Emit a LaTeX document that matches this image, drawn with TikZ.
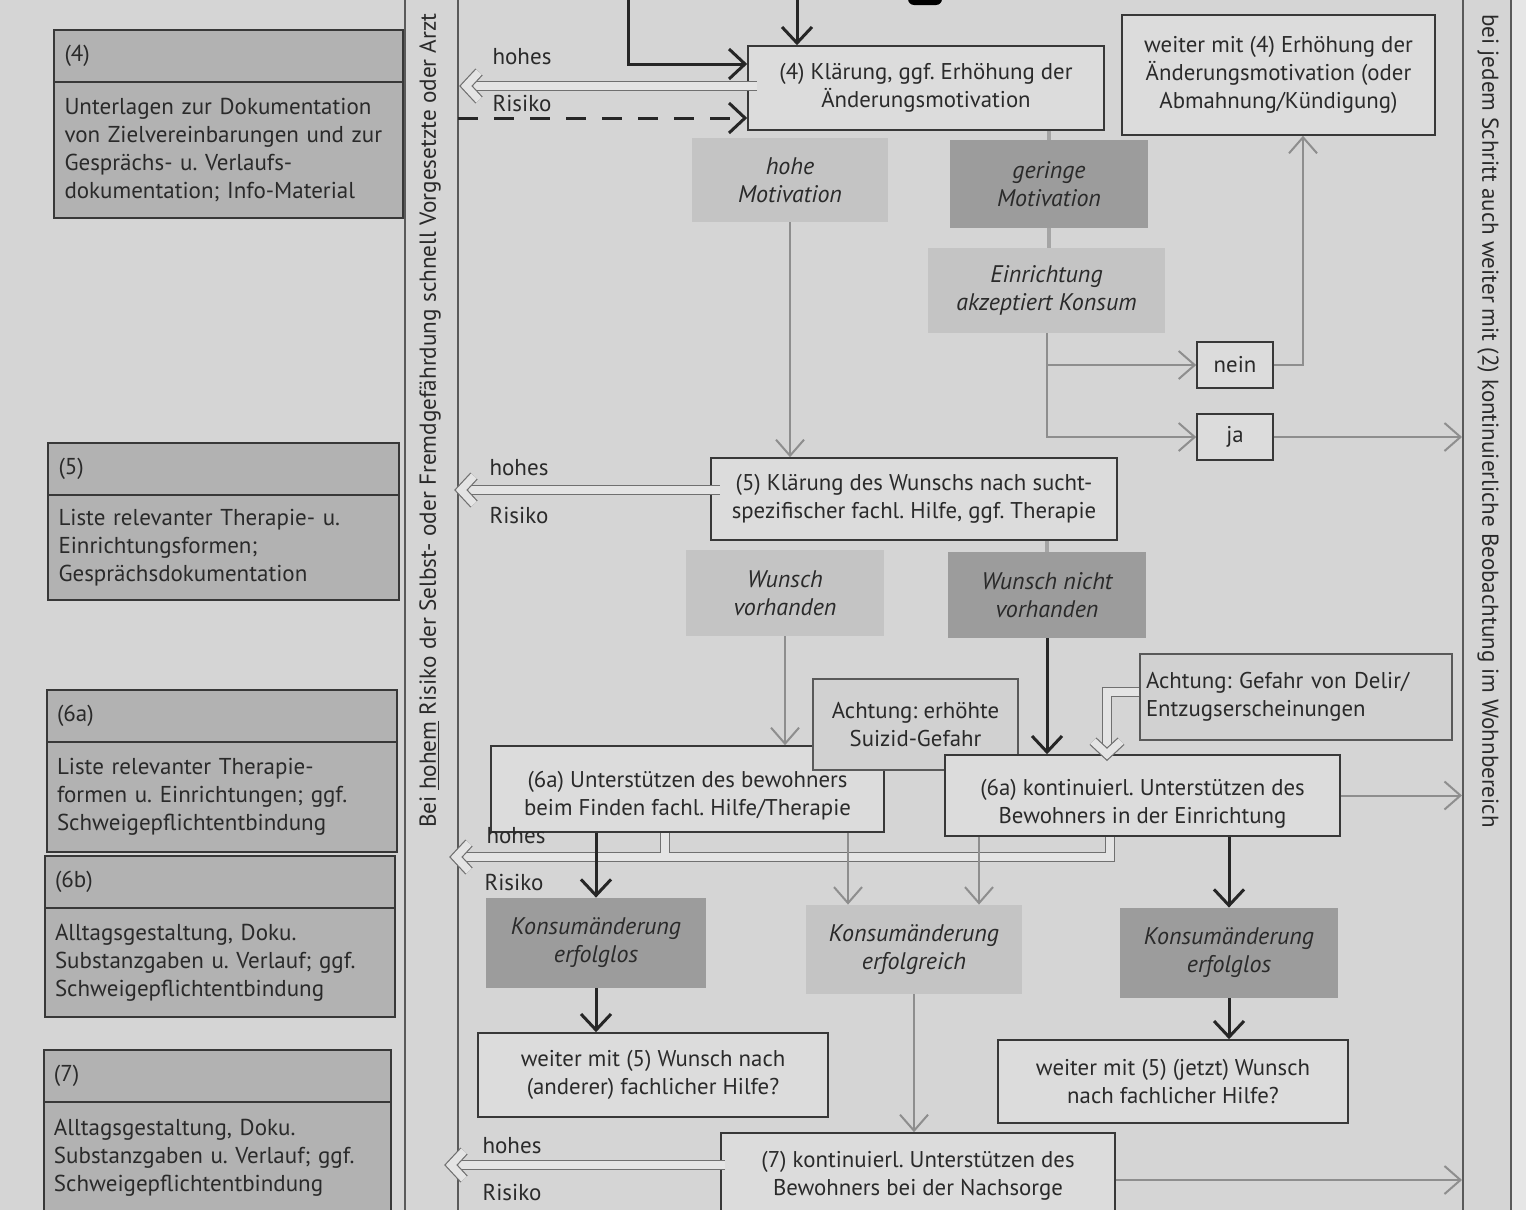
\documentclass[tikz,border=0pt]{standalone}
\usepackage{fontspec}
\setmainfont{PT Sans}
\frenchspacing
\usetikzlibrary{arrows.meta,calc}
\definecolor{bgc}{HTML}{D5D5D5}
\definecolor{boxf}{HTML}{DCDCDC}
\definecolor{leftf}{HTML}{B2B2B2}
\definecolor{shl}{HTML}{C4C4C4}
\definecolor{shd}{HTML}{9C9C9C}
\definecolor{bord}{HTML}{383838}
\definecolor{txtc}{HTML}{2A2A2A}
\definecolor{arrg}{HTML}{8E8E8E}
\definecolor{holc}{HTML}{707070}
\definecolor{holf}{HTML}{E4E4E4}
\definecolor{bandl}{HTML}{5A5A5A}
\begin{document}
\begin{tikzpicture}[x=0.5pt,y=-0.5pt,
  every node/.style={text=txtc, font=\fontsize{11.4}{14}\selectfont, inner sep=0pt},
  wh/.style 2 args={minimum width=#1*0.5pt, minimum height=#2*0.5pt},
  mainbox/.style={draw=bord, line width=0.8pt, fill=boxf, align=center},
  notebox/.style={draw=gray!70!black, line width=0.6pt, fill=boxf!95!black},
  lhead/.style={draw=bord, line width=0.8pt, fill=leftf, align=left, font=\fontsize{11.5}{14}\selectfont},
  lbody/.style={draw=bord, line width=0.8pt, fill=leftf, align=left, font=\fontsize{11.5}{14}\selectfont},
  lightbox/.style={fill=shl, align=center, font=\fontsize{12}{14}\selectfont\itshape},
  darkbox/.style={fill=shd, align=center, font=\fontsize{12}{14}\selectfont\itshape},
  blk/.style={draw=black!85, line width=1.5pt, -{Straight Barb[length=8pt,width=15pt]}},
  gry/.style={draw=arrg, line width=1pt, -{Straight Barb[length=8pt,width=14pt]}},
  hollowline/.style={draw=holc, double=holf, double distance=3.8pt, line width=0.6pt},
  hhead/.pic={\draw[hollowline, line join=miter] (13,-14) -- (0,0) -- (13,14);},
  notch/.style={draw=arrg!80, line width=2pt},
  risk/.style={font=\fontsize{11.5}{14}\selectfont},
]
\useasboundingbox (0,0) rectangle (1526,1210);
\clip (0,0) rectangle (1526,1210);
\fill[bgc] (0,0) rectangle (1526,1210);
\fill[bgc!60!white] (1511,0) rectangle (1526,1210);
\fill[black, rounded corners=3pt] (908,-8) rectangle (942,5);

% bands
\draw[bandl, line width=0.8pt] (405,0) -- (405,1210) (458,0) -- (458,1210);
\draw[bandl, line width=0.8pt] (1463,0) -- (1463,1210) (1511,0) -- (1511,1210);
\node[rotate=90, anchor=west, font=\fontsize{11.6}{13}\selectfont] (lband) at (430,828)
  {Bei \underline{hohem} Risiko der Selbst- oder Fremdgefährdung schnell Vorgesetzte oder Arzt};
\node[rotate=-90, anchor=west, font=\fontsize{11.5}{13}\selectfont] (rband) at (1488,14)
  {bei jedem Schritt auch weiter mit (2) kontinuierliche Beobachtung im Wohnbereich};

% left boxes
\node[lhead, wh={349}{52}, text width=164pt] (h4) at (228.5,56) {(4)};
\node[lbody, wh={349}{136}, text width=164pt] (d4) at (228.5,150)
  {Unterlagen zur Dokumentation\\von Zielvereinbarungen und zur\\Gesprächs- u. Verlaufs-\\dokumentation; Info-Material};
\node[lhead, wh={351}{52}, text width=165pt] (h5) at (223.5,469) {(5)};
\node[lbody, wh={351}{105}, text width=165pt] (d5) at (223.5,547.5)
  {Liste relevanter Therapie- u.\\Einrichtungsformen;\\Gesprächsdokumentation};
\node[lhead, wh={350}{52}, text width=165pt] (h6a) at (222,716) {(6a)};
\node[lbody, wh={350}{110}, text width=165pt] (d6a) at (222,797)
  {Liste relevanter Therapie-\\formen u. Einrichtungen; ggf.\\Schweigepflichtentbindung};
\node[lhead, wh={350}{52}, text width=165pt] (h6b) at (220,882) {(6b)};
\node[lbody, wh={350}{109}, text width=165pt] (d6b) at (220,962.5)
  {Alltagsgestaltung, Doku.\\Substanzgaben u. Verlauf; ggf.\\Schweigepflichtentbindung};
\node[lhead, wh={347}{52}, text width=163.5pt] (h7) at (217.5,1076) {(7)};
\node[lbody, wh={347}{112}, text width=163.5pt] (d7) at (217.5,1158)
  {Alltagsgestaltung, Doku.\\Substanzgaben u. Verlauf; ggf.\\Schweigepflichtentbindung};

% main flow nodes
\node[mainbox, wh={356}{84}] (b4) at (926,88) {(4) Klärung, ggf. Erhöhung der\\Änderungsmotivation};
\node[mainbox, wh={313}{120}] (weiter4) at (1278.5,75) {weiter mit (4) Erhöhung der\\Änderungsmotivation (oder\\Abmahnung/Kündigung)};
\node[lightbox, wh={196}{84}] (hoheMot) at (790,180) {hohe\\Motivation};
\node[darkbox, wh={198}{88}] (gerMot) at (1049,184) {geringe\\Motivation};
\node[lightbox, wh={237}{85}] (einr) at (1046.5,290.5) {Einrichtung\\akzeptiert Konsum};
\node[mainbox, wh={76}{46}] (nein) at (1235,365) {nein};
\node[mainbox, wh={76}{46}] (ja) at (1235,437) {ja};
\node[mainbox, wh={406}{82}] (b5) at (914,499) {(5) Klärung des Wunschs nach sucht-\\spezifischer fachl. Hilfe, ggf. Therapie};
\node[lightbox, wh={198}{86}] (wv) at (785,593) {Wunsch\\vorhanden};
\node[darkbox, wh={198}{86}] (wnv) at (1047,595) {Wunsch nicht\\vorhanden};
\node[mainbox, wh={393}{86},
  label={[yshift=-3.5pt, align=center]center:{(6a) Unterstützen des bewohners\\beim Finden fachl. Hilfe/Therapie}}] (b6l) at (687.5,789) {};
\node[notebox, wh={205}{91}, align=center] (suiz) at (915.5,724.5) {Achtung: erhöhte\\Suizid-Gefahr};
\node[mainbox, wh={395}{81},
  label={[yshift=-4pt, align=center]center:{(6a) kontinuierl. Unterstützen des\\Bewohners in der Einrichtung}}] (b6r) at (1142.5,795.5) {};
\node[notebox, wh={312}{86}, text width=150pt, align=left] (delir) at (1296,697) {Achtung: Gefahr von Delir/\\Entzugserscheinungen};
\node[darkbox, wh={220}{90}] (kel) at (596,943) {Konsumänderung\\erfolglos};
\node[lightbox, wh={216}{89}] (ker) at (914,949.5) {Konsumänderung\\erfolgreich};
\node[darkbox, wh={218}{90}] (ke2) at (1229,953) {Konsumänderung\\erfolglos};
\node[mainbox, wh={350}{84}] (w5a) at (653,1075) {weiter mit (5) Wunsch nach\\(anderer) fachlicher Hilfe?};
\node[mainbox, wh={350}{83}] (w5b) at (1173,1081.5) {weiter mit (5) (jetzt) Wunsch\\nach fachlicher Hilfe?};
\node[mainbox, wh={394}{86}] (b7) at (918,1176) {(7) kontinuierl. Unterstützen des\\Bewohners bei der Nachsorge};

% risk labels
\node[risk] (r4a) at (522,57) {hohes};
\node[risk] (r4b) at (522,103) {Risiko};
\node[risk] (r5a) at (519,468) {hohes};
\node[risk] (r5b) at (519,515) {Risiko};
\node[risk] (r6a) at (516,836) {hohes};
\node[risk] (r6b) at (514,882) {Risiko};
\node[risk] (r7a) at (512,1146) {hohes};
\node[risk] (r7b) at (512,1192) {Risiko};

% coordinates
\coordinate (l4) at (466,86);
\coordinate (l5) at (461,490);
\coordinate (l6) at (456,857);
\coordinate (d6) at (1110,857);
\coordinate (s6) at (665,853);
\coordinate (l7) at (451,1165);
\coordinate (dl) at (1107,0);
\coordinate (t1) at (628,0);
\coordinate (t2) at (797,0);
\coordinate (dsh) at (458,118);
\coordinate (nw) at (1303,0);
\coordinate (rj) at (1462,437);
\coordinate (r6) at (1462,797);
\coordinate (r7) at (1462,1180);
\coordinate (x848) at (848,0);
\coordinate (x979) at (979,0);

% hollow "hohes Risiko" arrows
\draw[hollowline] ([shift={(10,-2)}]b4.west) -- ([shift={(5,0)}]l4);
\pic at (l4) {hhead};
\draw[hollowline] ([shift={(10,-9)}]b5.west) -- ([shift={(5,0)}]l5);
\pic at (l5) {hhead};
\draw[hollowline, line join=miter] (d6 |- b6r.south) -- (d6) -- ([shift={(5,0)}]l6);
\pic at (l6) {hhead};
\draw[hollowline] (s6 |- b6l.south) -- (s6);
\draw[hollowline] ([shift={(5,-11)}]b7.west) -- ([shift={(5,0)}]l7);
\pic at (l7) {hhead};
\draw[hollowline, line join=miter] ([shift={(0,-5)}]delir.west) -| ([shift={(0,-6)}]dl |- b6r.north);
\pic[rotate=90] at (dl |- b6r.north) {hhead};

% small connectors
\draw[notch] (gerMot.north |- b4.south) -- (gerMot.north);
\draw[notch] (gerMot.south) -- (gerMot.south |- einr.north);
\draw[notch] (wnv.north |- b5.south) -- (wnv.north);

% arrows
\draw[blk, line join=miter] (t1) |- ([shift={(0,-24)}]b4.west);
\draw[blk] (t2) -- (t2 |- b4.north);
\draw[blk, dash pattern=on 10pt off 8pt] (dsh) -- (dsh -| b4.west);
\draw[gry] (hoheMot.south) -- (hoheMot.south |- b5.north);
\draw[gry] (einr.south) |- (ja.west);
\draw[gry] (einr.south |- nein.west) -- (nein.west);
\draw[gry] (nein.east) -| (nw |- weiter4.south);
\draw[gry] (ja.east) -- (rj);
\draw[gry] (wv.south) -- (wv.south |- b6l.north);
\draw[blk] (wnv.south) -- (wnv.south |- b6r.north);
\draw[gry] (b6r.east) -- (b6r.east -| r6);
\draw[blk] (kel.north |- b6l.south) -- (kel.north);
\draw[gry] (x848 |- b6l.south) -- (x848 |- ker.north);
\draw[gry] (x979 |- b6r.south) -- (x979 |- ker.north);
\draw[blk] (ke2.north |- b6r.south) -- (ke2.north);
\draw[blk] (kel.south) -- (kel.south |- w5a.north);
\draw[blk] (ke2.south) -- (ke2.south |- w5b.north);
\draw[gry] (ker.south) -- (ker.south |- b7.north);
\draw[gry] (b7.east |- r7) -- (r7);
\end{tikzpicture}
\end{document}
